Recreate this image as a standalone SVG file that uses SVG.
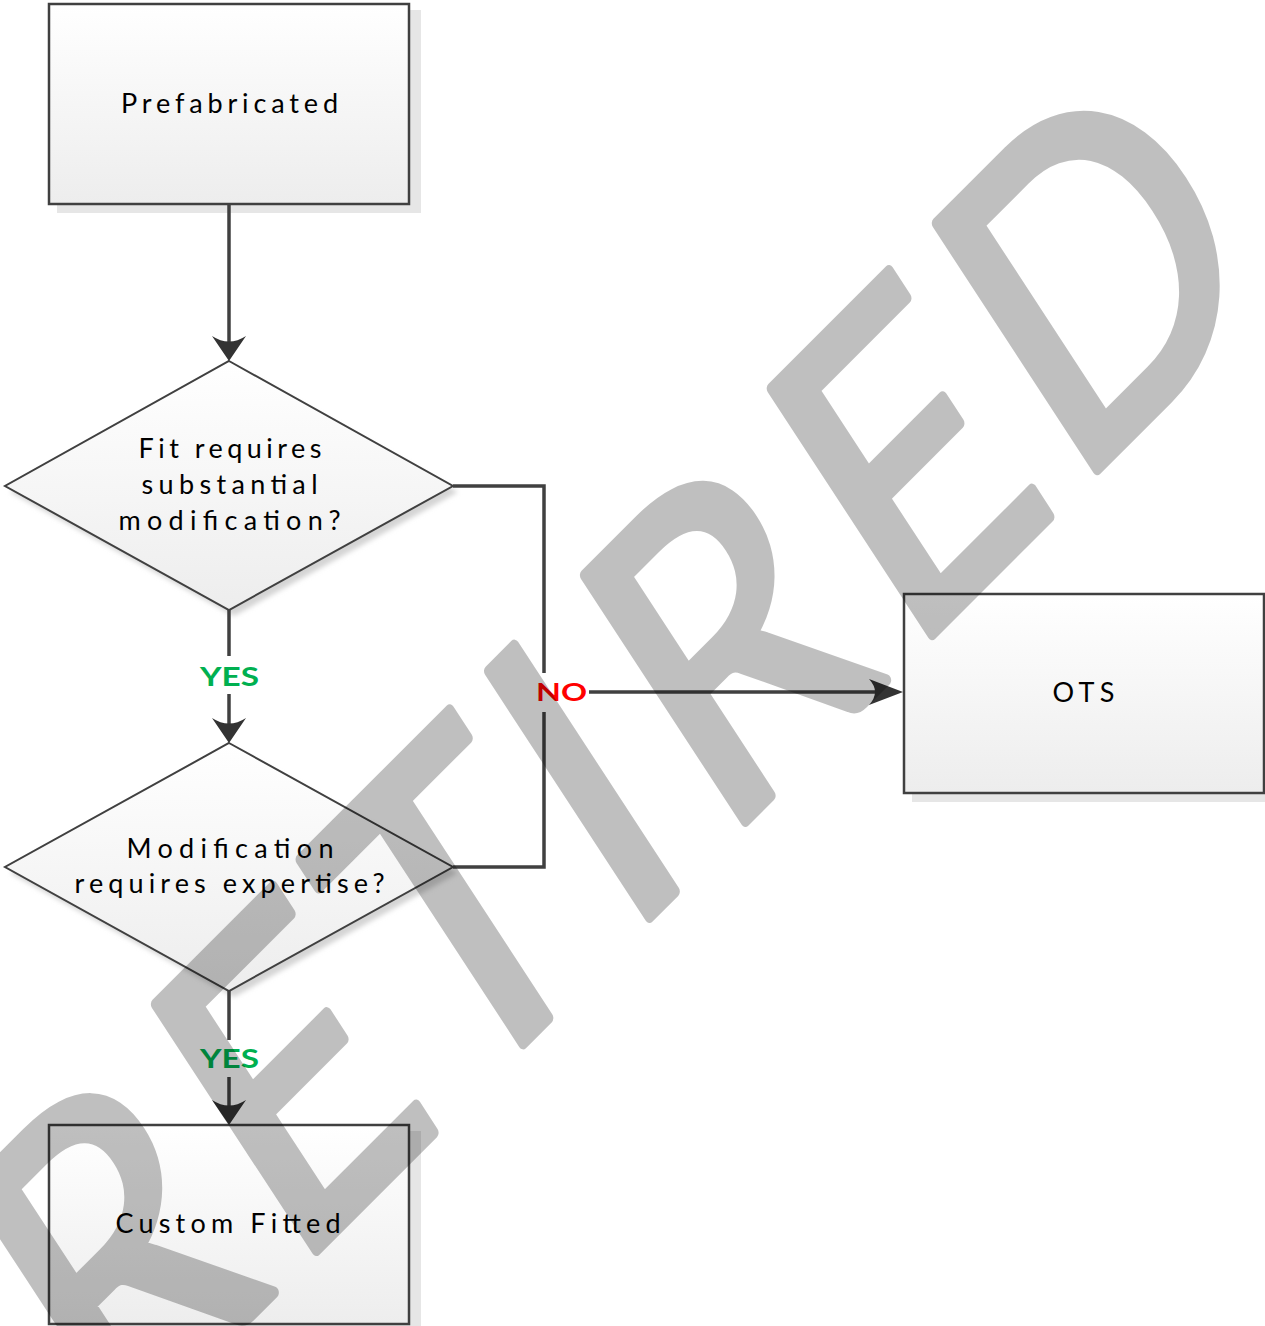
<svg xmlns="http://www.w3.org/2000/svg" width="1265" height="1326" viewBox="0 0 1265 1326">
<defs>
  <style>
    .box { fill: url(#fillG); stroke: #404040; stroke-width: 2.5; }
    .dia { fill: url(#fillG); stroke: #404040; stroke-width: 2; stroke-linejoin: miter; }
    .shadow { fill: #e6e6e6; }
    .dshadow { fill: #d4d4d4; filter: url(#soft); }
    .lbl { font-family: "Lato", "Liberation Sans", sans-serif; font-size: 27px; fill: #000; text-anchor: middle; }
    .conn { fill: none; stroke: #404040; stroke-width: 3.5; }
    .yes { font-family: "Lato", "Liberation Sans", sans-serif; font-weight: bold; font-size: 26px; fill: #00B050; text-anchor: middle; }
    .no { font-family: "Lato", "Liberation Sans", sans-serif; font-weight: bold; font-size: 25px; fill: #FF0000; text-anchor: middle; }
    .lblbg { fill: #ffffff; }
    .wm { font-family: "Lato", "Liberation Sans", sans-serif; font-size: 410px; fill: #000; stroke: #000; stroke-width: 11; stroke-linejoin: round; text-anchor: middle; }
  </style>
  <linearGradient id="fillG" x1="0" y1="0" x2="0" y2="1">
    <stop offset="0" stop-color="#ffffff"/>
    <stop offset="1" stop-color="#ededed"/>
  </linearGradient>
  <filter id="soft" x="-10%" y="-10%" width="120%" height="120%">
    <feGaussianBlur stdDeviation="2.5"/>
  </filter>
  <marker id="arrDown" markerUnits="userSpaceOnUse" viewBox="-27 -18 29 36" markerWidth="29" markerHeight="36" refX="-8" refY="0" orient="auto">
    <path d="M0,0 L-25,-17 Q-14,0 -25,17 Z" fill="#333333"/>
  </marker>
  <marker id="arrRight" markerUnits="userSpaceOnUse" viewBox="-36 -14 38 28" markerWidth="38" markerHeight="28" refX="-8" refY="0" orient="auto">
    <path d="M0,0 L-34,-13 Q-22,0 -34,13 Z" fill="#333333"/>
  </marker>
</defs>

<rect width="1265" height="1326" fill="#ffffff"/>

<g id="node-prefabricated">
  <rect class="shadow" x="57" y="10" width="364" height="203"/>
  <rect class="box" x="49" y="4" width="360" height="200"/>
  <text class="lbl" x="229.5" y="113" textLength="217" lengthAdjust="spacing">Prefabricated</text>
</g>

<g id="node-fit-decision">
  <polygon class="dshadow" points="234,367 458,492 234,616 10,492"/>
  <polygon class="dia" points="229,361 453,486 229,610 5,486"/>
  <text class="lbl" x="230" y="458" textLength="183" lengthAdjust="spacing">Fit requires</text>
  <text class="lbl" x="229.5" y="494" textLength="176" lengthAdjust="spacing">substantial</text>
  <text class="lbl" x="229.5" y="530" textLength="222" lengthAdjust="spacing">modification?</text>
</g>

<g id="node-expertise-decision">
  <polygon class="dshadow" points="234,749 458,873 234,997 10,873"/>
  <polygon class="dia" points="229,743 453,867 229,991 5,867"/>
  <text class="lbl" x="230" y="858" textLength="207" lengthAdjust="spacing">Modification</text>
  <text class="lbl" x="229.5" y="893" textLength="310" lengthAdjust="spacing">requires expertise?</text>
</g>

<g id="node-custom-fitted">
  <rect class="shadow" x="57" y="1131" width="364" height="202"/>
  <rect class="box" x="49" y="1125" width="360" height="199"/>
  <text class="lbl" x="228" y="1233" textLength="225" lengthAdjust="spacing">Custom Fitted</text>
</g>

<g id="node-ots">
  <rect class="shadow" x="912" y="600" width="364" height="202"/>
  <rect class="box" x="904" y="594" width="360" height="199"/>
  <text class="lbl" x="1083.5" y="702" textLength="62" lengthAdjust="spacing">OTS</text>
</g>

<g id="connectors">
  <path class="conn" d="M229,204 V353" marker-end="url(#arrDown)"/>
  <path class="conn" d="M229,610 V735" marker-end="url(#arrDown)"/>
  <path class="conn" d="M229,991 V1117" marker-end="url(#arrDown)"/>
  <path class="conn" d="M453,486 H544 V692 H895" marker-end="url(#arrRight)"/>
  <path class="conn" d="M453,867 H544 V692"/>
  <rect class="lblbg" x="197" y="656" width="65" height="38"/>
  <text class="yes" x="229.5" y="686" textLength="59" lengthAdjust="spacingAndGlyphs">YES</text>
  <rect class="lblbg" x="197" y="1040" width="65" height="37"/>
  <text class="yes" x="229.5" y="1068" textLength="59" lengthAdjust="spacingAndGlyphs">YES</text>
  <rect class="lblbg" x="534" y="673" width="55" height="39"/>
  <text class="no" x="561.5" y="701" textLength="51" lengthAdjust="spacingAndGlyphs">NO</text>
</g>

<g id="watermark" opacity="0.247">
  <text class="wm" transform="matrix(0.6505 -0.6505 0.547 0.837 927.4 639.1)" x="-1130.4 -858.7 -602.2 -407.6 -189.1 88 379.3" y="0">RETIRED</text>
</g>
</svg>
